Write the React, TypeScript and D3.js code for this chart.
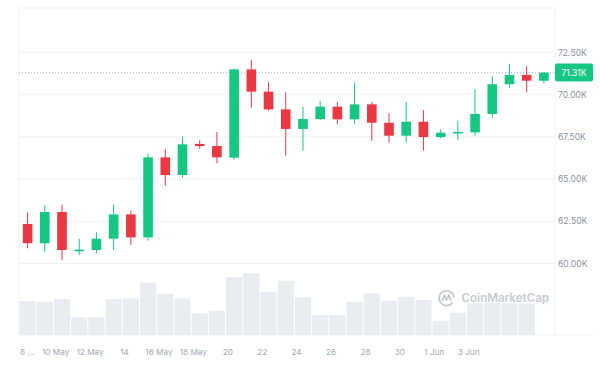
import React from 'react';
import * as d3 from 'd3';

// daily candles, values in thousands of USD
const dates = [
  '8 May', '9 May', '10 May', '11 May', '12 May', '13 May', '14 May', '15 May',
  '16 May', '17 May', '18 May', '19 May', '20 May', '21 May', '22 May', '23 May',
  '24 May', '25 May', '26 May', '27 May', '28 May', '29 May', '30 May', '31 May',
  '1 Jun', '2 Jun', '3 Jun', '4 Jun', '5 Jun', '6 Jun', '7 Jun',
];
const open = [
  62.34, 61.2, 63.05, 60.78, 60.8, 61.47, 62.91, 61.55, 66.29, 65.24, 67.08,
  66.96, 66.27, 71.5, 70.18, 69.13, 67.97, 68.56, 69.29, 68.54, 69.43, 68.34,
  67.57, 68.4, 67.49, 67.75, 67.77, 68.86, 70.62, 71.17, 70.83,
];
const high = [
  63.03, 63.45, 63.48, 61.47, 61.85, 63.48, 63.13, 66.49, 66.78, 67.51, 67.3,
  67.79, 71.55, 72.06, 70.73, 70.14, 69.29, 69.64, 69.58, 70.71, 69.58, 68.9,
  69.58, 69.09, 67.95, 68.46, 70.32, 71.1, 71.82, 71.7, 71.36,
];
const low = [
  60.9, 60.66, 60.2, 60.5, 60.6, 60.8, 61.1, 61.35, 64.6, 65.1, 66.8, 65.94,
  66.15, 69.23, 69.05, 66.39, 66.68, 68.5, 68.25, 68.25, 67.27, 67.16, 67.18,
  66.68, 67.42, 67.32, 67.57, 68.66, 70.41, 70.14, 70.68,
];
const close = [
  61.2, 63.05, 60.8, 60.82, 61.47, 62.91, 61.55, 66.29, 65.24, 67.06, 66.96,
  66.29, 71.5, 70.18, 69.13, 67.97, 68.56, 69.29, 68.54, 69.43, 68.34, 67.57,
  68.4, 67.49, 67.75, 67.8, 68.86, 70.62, 71.17, 70.83, 71.31,
];
// volume, billions USD
const volume = [
  26, 25.4, 27.5, 13.5, 13.5, 27.5, 28, 40, 31.3, 28, 16.6, 18.5, 44, 47.1, 33,
  41.5, 28.8, 15.3, 15.3, 25.4, 31.8, 26.2, 29.2, 26.7, 10.9, 17, 24.2, 24.6,
  24.3, 24.0, 0,
];
const priceTicks = [60, 62.5, 65, 67.5, 70, 72.5];
const xLabels: [string, string][] = [
  ['10 May', '10 May'], ['12 May', '12 May'], ['14 May', '14'], ['16 May', '16 May'],
  ['18 May', '18 May'], ['20 May', '20'], ['22 May', '22'], ['24 May', '24'],
  ['26 May', '26'], ['28 May', '28'], ['30 May', '30'], ['1 Jun', '1 Jun'], ['3 Jun', '3 Jun'],
];
const lastPrice = 71.31;

const W = 600;
const H = 369;
const left = 19;
const right = 555;
const top = 8;
const volBottom = 335;
const green = '#16c784';
const red = '#ea3943';
const grid = '#eff1f4';
const font = 'Inter, "Noto Sans", sans-serif';

export default function App() {
  const x = d3.scaleBand<string>().domain(dates).range([left, 552.5]).padding(0);
  const y = d3.scaleLinear().domain([60, 72.5]).range([263.5, 52.5]);
  const yv = d3.scaleLinear().domain([0, 50]).range([volBottom, volBottom - 65.5]);
  const bw = x.bandwidth();
  const body = bw * 0.56;
  const fmt = (v: number) => v.toFixed(2) + 'K';

  return (
    <svg width={W} height={H} style={{ position: 'absolute', left: 0, top: 0, background: '#fff' }}>
      {/* frame */}
      <line x1={left} x2={right} y1={top} y2={top} stroke={grid} />
      <line x1={left} x2={left} y1={top} y2={volBottom} stroke={grid} />
      <line x1={right} x2={right} y1={top} y2={volBottom} stroke={grid} />
      <line x1={left} x2={593} y1={volBottom} y2={volBottom} stroke={grid} />

      {priceTicks.map((t) => (
        <g key={t}>
          <line x1={left} x2={right} y1={y(t)} y2={y(t)} stroke={grid} />
          <text x={558} y={y(t)} dy="0.35em" fontSize={8.6} fill="#8c93a0" fontFamily={font}>
            {fmt(t)}
          </text>
        </g>
      ))}

      {/* volume */}
      {dates.map((d, i) => (
        <rect
          key={'v' + d}
          x={x(d)! + 0.5}
          width={bw - 1}
          y={yv(volume[i])}
          height={volBottom - yv(volume[i])}
          fill="#e9edf1"
        />
      ))}

      {/* watermark */}
      <g transform="translate(446.5,298)" fill="none" stroke="#c5cad3" strokeWidth={1.7}>
        <path d="M6.2,4.2 A7.4,7.4 0 1 1 7.4,0" />
        <path d="M-4.5,3.2 L-2,-3 L0.2,2.2 L2.4,-3 L4.6,2.6" strokeLinejoin="round" />
      </g>
      <text x={461.5} y={302} fontSize={11.6} fontWeight={600} fill="#c8cdd5" fontFamily={font}>
        CoinMarketCap
      </text>

      {/* last price line */}
      <line
        x1={left}
        x2={right}
        y1={y(lastPrice)}
        y2={y(lastPrice)}
        stroke="#b3b8c2"
        strokeDasharray="1,2"
      />

      {/* candles */}
      {dates.map((d, i) => {
        const cx = x(d)! + bw / 2;
        const up = close[i] >= open[i];
        const c = up ? green : red;
        const y0 = y(Math.max(open[i], close[i]));
        const y1 = y(Math.min(open[i], close[i]));
        const h = Math.max(1.6, y1 - y0);
        return (
          <g key={'c' + d}>
            <line x1={cx} x2={cx} y1={y(high[i])} y2={y(low[i])} stroke={c} strokeWidth={1} />
            <rect x={cx - body / 2} width={body} y={y0} height={h} fill={c} />
          </g>
        );
      })}

      {/* price badge */}
      <rect x={555} y={y(lastPrice) - 9} width={38} height={18} rx={2} fill={green} />
      <text x={574} y={y(lastPrice)} dy="0.35em" textAnchor="middle" fontSize={8.6} fill="#fff" fontFamily={font}>
        {fmt(lastPrice)}
      </text>

      {/* x axis labels */}
      <text x={20} y={352} dy="0.35em" fontSize={8.2} fill="#a3a9b5" fontFamily={font}>
        8 ...
      </text>
      {xLabels.map(([d, label]) => (
        <text
          key={d}
          x={x(d)! + bw * 0.13}
          y={352}
          dy="0.35em"
          textAnchor="middle"
          fontSize={8.2}
          fill="#a3a9b5"
          fontFamily={font}
        >
          {label}
        </text>
      ))}
    </svg>
  );
}
